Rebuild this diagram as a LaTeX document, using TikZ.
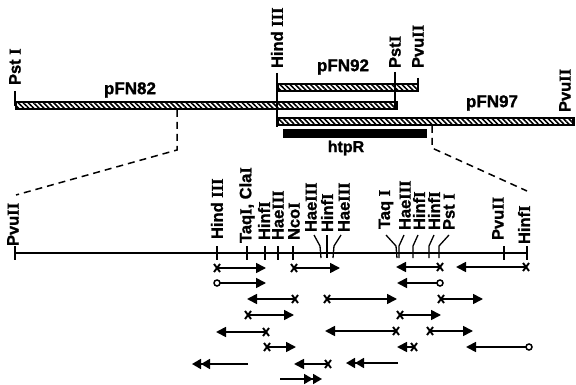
\documentclass[tikz,border=0pt]{standalone}
\usepackage{fontspec}
\setmainfont[FakeBold=1.2]{Liberation Sans}
\newfontfamily\numfont[FakeBold=1.2]{Liberation Serif}
\usetikzlibrary{arrows.meta,patterns.meta,shapes.misc}
\newcommand{\rn}[1]{{\numfont\bfseries #1}}
\newcommand{\frag}[6]{%
  \coordinate (#1a) at (#2,#4);
  \coordinate (#1b) at (#3,#4);
  \draw[#6] (#1a) -- (#1b);
  \node[#5] (#1m) at (#1a) {};
}
\tikzset{
  every node/.style={inner sep=0pt,outer sep=0pt},
  site/.style={rotate=90,anchor=west,font=\bfseries\fontsize{16.5}{18}\selectfont},
  plasmid/.style={font=\bfseries\fontsize{17}{19}\selectfont},
  bar/.style={draw=black,line width=2pt,pattern={Lines[angle=-45,distance=3.6pt,line width=1.6pt]}},
  gene/.style={fill=black,draw=black,line width=.5pt},
  tick/.style={line width=1.4pt},
  axis/.style={line width=2pt},
  lead/.style={line width=1.3pt},
  zoomline/.style={line width=1.5pt,dash pattern=on 7pt off 5pt},
  xmark/.style={cross out,draw=black,line width=1.9pt,minimum width=6pt,minimum height=8pt},
  omark/.style={circle,draw=black,fill=white,line width=1.5pt,minimum size=6pt},
  nomark/.style={inner sep=0pt},
  rt/.style={line width=1.7pt,-{Triangle[length=10pt,width=10pt]}},
  lt/.style={line width=1.7pt,-{Triangle[length=10pt,width=10pt]}},
  rtt/.style={line width=1.7pt,-{Triangle[length=9pt,width=10pt]Triangle[length=9pt,width=10pt]}},
}
\begin{document}
\begin{tikzpicture}[x=1pt,y=-1pt]
\useasboundingbox (0,0) rectangle (576,385);
% plasmid bars
\node[bar,minimum width=381pt,minimum height=7pt,anchor=north west] (b82) at (15.5,102.5) {};
\node[bar,minimum width=140pt,minimum height=7pt,anchor=north west] (b92) at (277.5,84) {};
\node[bar,minimum width=296pt,minimum height=7pt,anchor=north west] (b97) at (277.5,118) {};
\node[gene,minimum width=143pt,minimum height=8pt,anchor=north west] (gene) at (283,129.5) {};
% top sites
\node[site] (tP1) at (15,85) {Pst \rn{I}};
\node[site] (tH) at (277,68) {Hind \rn{III}};
\node[site] (tP2) at (395,68) {Pst\rn{I}};
\node[site] (tV1) at (418,68) {Pvu\rn{II}};
\node[site] (tV2) at (565,112) {Pvu\rn{II}};
\coordinate (c1) at (15,91); \coordinate (c2) at (15,106);
\coordinate (c3) at (277,73); \coordinate (c4) at (277,127);
\coordinate (c5) at (395,72); \coordinate (c6) at (395,110);
\coordinate (c7) at (418,78); \coordinate (c8) at (418,92);
\coordinate (c9) at (573,117); \coordinate (c10) at (573,126);
\foreach \a/\b in {c1/c2,c3/c4,c5/c6,c7/c8,c9/c10} \draw[tick] (\a) -- (\b);
% plasmid labels
\node[plasmid] (n82) at (130,90) {pFN82};
\node[plasmid] (n92) at (343,67) {pFN92};
\node[plasmid] (n97) at (492,103) {pFN97};
\node[plasmid,font=\bfseries\fontsize{16}{18}\selectfont] (nh) at (346,148) {htpR};
% zoom lines
\coordinate (z1) at (177,110); \coordinate (z2) at (177,150); \coordinate (z3) at (16,195);
\coordinate (z4) at (432,126); \coordinate (z5) at (432,148); \coordinate (z6) at (527,191);
\draw[zoomline] (z1) -- (z2) -- (z3);
\draw[zoomline] (z4) -- (z5) -- (z6);
% map axis
\coordinate (m0) at (15,253); \coordinate (m1) at (527,253);
\draw[axis] (m0) -- (m1);
% lower sites with straight ticks
\foreach \nm/\x/\yb/\txt in {
  a/13/246/{Pvu\rn{II}},
  b/217/239/{Hind \rn{III}},
  c/247/243/{Taq\rn{I}, Cla\rn{I}},
  d/264/240/{Hinf\rn{I}},
  e/278/240/{Hae\rn{III}},
  f/294/240/{Nco\rn{I}},
  g/498/240/{Pvu\rn{II}},
  h/524/244/{Hinf\rn{I}}}{
  \node[site] (s\nm) at (\x,\yb) {\txt};
}
\foreach \x in {15,217,247,265,278,293,504,527}{
  \coordinate (ta\x) at (\x,246); \coordinate (tb\x) at (\x,260);
  \draw[tick] (ta\x) -- (tb\x);
}
% lower sites with leaders
\foreach \nm/\x/\yb/\txt in {
  i/311/232/{Hae\rn{III}},
  j/327/232/{Hinf\rn{I}},
  k/344/232/{Hae\rn{III}},
  l/386/229/{Taq \rn{I}},
  m/405/230/{Hae\rn{III}},
  n/419/230/{Hinf\rn{I}},
  o/434/230/{Hinf\rn{I}},
  p/449/230/{Pst \rn{I}}}{
  \node[site] (s\nm) at (\x,\yb) {\txt};
}
\foreach \nm/\xa/\xb/\xc in {
  i/314/320/321, j/327/327/327, k/341/334/333,
  l/386/396/397, m/404/399/399, n/418/413/413,
  o/434/429/429, p/449/439/439}{
  \coordinate (la\nm) at (\xa,235);
  \coordinate (lb\nm) at (\xb,246);
  \coordinate (lc\nm) at (\xc,258);
  \draw[lead] (la\nm) -- (lb\nm) -- (lc\nm);
}
% sequencing fragments
\frag{r1a}{217}{266}{268}{xmark}{rt}
\frag{r1b}{294}{340}{268}{xmark}{rt}
\frag{r1c}{440}{396}{267}{xmark}{lt}
\frag{r1d}{526}{456}{267}{xmark}{lt}
\frag{r2a}{217}{266}{283}{omark}{rt}
\frag{r2b}{440}{397}{283}{omark}{lt}
\frag{r3a}{295}{247}{299}{xmark}{lt}
\frag{r3b}{327}{397}{299}{xmark}{rt}
\frag{r3c}{441}{483}{299}{xmark}{rt}
\frag{r4a}{248}{294}{315}{xmark}{rt}
\frag{r4b}{400}{441}{315}{xmark}{rt}
\frag{r5a}{266}{216}{332}{xmark}{lt}
\frag{r5b}{396}{325}{331}{xmark}{lt}
\frag{r5c}{430}{473}{331}{xmark}{rt}
\frag{r6a}{267}{296}{347}{xmark}{rt}
\frag{r6b}{414}{397}{347}{xmark}{lt}
\frag{r6c}{529}{466}{347}{omark}{lt}
\frag{r7a}{248}{192}{364}{nomark}{rtt}
\frag{r7b}{328}{294}{364}{xmark}{lt}
\frag{r7c}{398}{346}{363}{nomark}{rtt}
\frag{r8a}{280}{322}{379}{nomark}{rtt}
\end{tikzpicture}
\end{document}
